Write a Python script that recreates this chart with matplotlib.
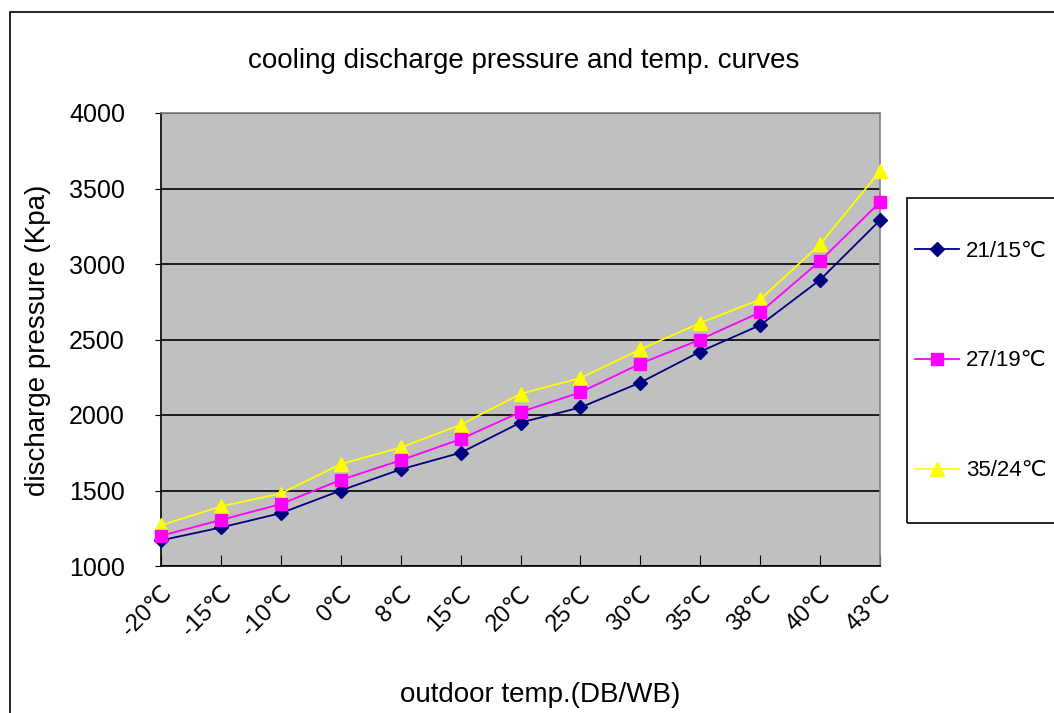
import matplotlib
matplotlib.use("Agg")
import matplotlib.pyplot as plt
import matplotlib.patches as patches

plt.rcParams["font.family"] = ["Liberation Sans", "DejaVu Sans"]

# data
temps = ["-20℃", "-15℃", "-10℃", "0℃", "8℃", "15℃", "20℃",
         "25℃", "30℃", "35℃", "38℃", "40℃", "43℃"]
p_21_15 = [1170, 1255, 1350, 1500, 1640, 1750, 1950, 2050, 2215, 2420, 2595, 2895, 3290]
p_27_19 = [1200, 1305, 1410, 1570, 1700, 1840, 2020, 2150, 2340, 2500, 2680, 3020, 3410]
p_35_24 = [1270, 1395, 1480, 1675, 1785, 1935, 2140, 2245, 2435, 2610, 2765, 3130, 3615]
y_ticks = [1000, 1500, 2000, 2500, 3000, 3500, 4000]

W, H = 1054, 713
fig = plt.figure(figsize=(W / 100, H / 100), dpi=100)
fig.patch.set_facecolor("white")

# outer chart border (runs off the right and bottom edge)
fig.patches.append(patches.Rectangle((10 / W, -0.1), 1.2, 1.1 - 12 / H,
                                     transform=fig.transFigure, fill=False,
                                     edgecolor="black", linewidth=1.2))

ax = fig.add_axes([161 / W, 1 - 566 / H, (880 - 161) / W, (566 - 113) / H])
ax.set_facecolor("#C0C0C0")

xs = list(range(len(temps)))
ax.plot(xs, p_35_24, color="#FFFF00", marker="^", markersize=10, linewidth=1.3,
        label="35/24℃", zorder=3, clip_on=False)
ax.plot(xs, p_21_15, color="#000080", marker="D", markersize=7, linewidth=1.3,
        label="21/15℃", zorder=4, clip_on=False)
ax.plot(xs, p_27_19, color="#FF00FF", marker="s", markersize=9, linewidth=1.3,
        label="27/19℃", zorder=5, clip_on=False)

ax.set_xlim(0, len(temps) - 1)
ax.set_ylim(1000, 4000)
ax.set_yticks(y_ticks)
ax.set_xticks(xs)
ax.set_xticklabels(temps, rotation=45, ha="right", rotation_mode="anchor", fontsize=17)
ax.tick_params(axis="x", direction="in", length=8, pad=12, color="black")
ax.tick_params(axis="y", direction="out", length=4, pad=22, labelsize=18)
ax.yaxis.grid(True, color="black", linewidth=1.2)
ax.set_axisbelow(True)

for s in ["left", "bottom"]:
    ax.spines[s].set_color("black")
    ax.spines[s].set_linewidth(1.2)
for s in ["top", "right"]:
    ax.spines[s].set_color("#808080")
    ax.spines[s].set_linewidth(1.2)

fig.text(524 / W, 1 - 61 / H, "cooling discharge pressure and temp. curves",
         ha="center", va="center", fontsize=20)
fig.text(38 / W, 1 - 340 / H, "discharge pressure (Kpa)", rotation=90,
         ha="center", va="center", fontsize=20)
fig.text(540 / W, 1 - 695 / H, "outdoor temp.(DB/WB)",
         ha="center", va="center", fontsize=20)

# legend box, also cut by the right edge
fig.patches.append(patches.Rectangle((907 / W, 1 - 523 / H), 0.2, (523 - 198) / H,
                                     transform=fig.transFigure, fill=False,
                                     edgecolor="black", linewidth=1.2))
handles, labels = ax.get_legend_handles_labels()
order = [1, 2, 0]
fig.legend([handles[i] for i in order], [labels[i] for i in order],
           loc="center left", bbox_to_anchor=(915 / W, 1 - 361 / H),
           frameon=False, fontsize=16, labelspacing=4.0, handlelength=2.0,
           handletextpad=0.3, borderpad=0, borderaxespad=0)

fig.savefig("out.png", dpi=100)
